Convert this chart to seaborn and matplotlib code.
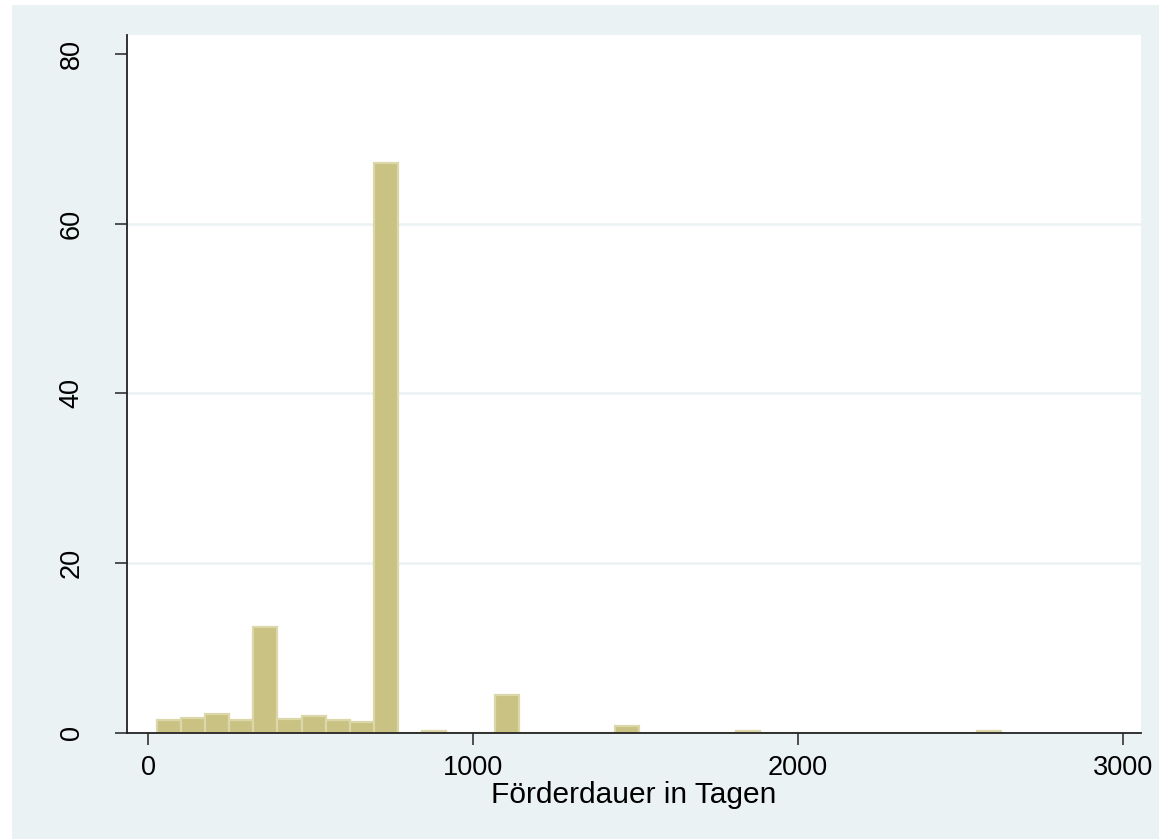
import numpy as np
import pandas as pd
import matplotlib
matplotlib.use('Agg')
import matplotlib.pyplot as plt
import seaborn as sns

# Histogramm der Förderdauer (Prozent je Klasse)
BIN_START = 27.0      # untere Grenze der ersten Klasse (Tage)
BIN_WIDTH = 74.2      # Klassenbreite (Tage)
N_BINS = 35

# Nur Klassen mit Werten > 0: Klassenindex und Prozent
klasse = [0, 1, 2, 3, 4, 5, 6, 7, 8, 9, 11, 14, 19, 24, 34]
prozent = [1.53, 1.72, 2.24, 1.53, 12.45, 1.65, 2.0, 1.53, 1.33, 67.1,
           0.27, 4.5, 0.82, 0.2, 0.2]

x_ticks = [0, 1000, 2000, 3000]
y_ticks = [0, 20, 40, 60, 80]
x_label = 'Förderdauer in Tagen'

edges = [BIN_START + BIN_WIDTH * i for i in range(N_BINS + 1)]
df = pd.DataFrame({
    'dauer': [BIN_START + BIN_WIDTH * (k + 0.5) for k in klasse],
    'prozent': prozent,
})

sns.set_theme(style='white')
plt.rcParams['font.family'] = ['Liberation Sans', 'DejaVu Sans']

BG = '#EAF2F3'
fig = plt.figure(figsize=(11.59, 8.39), dpi=100, facecolor='white')
# Stata-artiger Grafikbereich (leicht beschnitten wie im Original)
fig.patches.append(plt.Rectangle((12 / 1159, 0), 1, 1 - 5 / 839,
                                 transform=fig.transFigure, facecolor=BG,
                                 edgecolor='none', zorder=-10))
ax = fig.add_axes([127 / 1159, 1 - 733 / 839, (1141 - 127) / 1159, (733 - 35) / 839])
ax.set_facecolor('white')

sns.histplot(data=df, x='dauer', weights='prozent', bins=edges, stat='count',
             color='#C9C283', edgecolor='#DBD7A8', linewidth=1.6,
             alpha=1.0, ax=ax)

ax.set_xlim(-65, 3055)
ax.set_ylim(0, 82.2)
ax.set_xticks(x_ticks)
ax.set_yticks(y_ticks)
ax.set_xlabel(x_label, fontsize=21.5, labelpad=0, color='black')
ax.set_ylabel('')

ax.set_axisbelow(True)
ax.yaxis.grid(True, color=BG, linewidth=1.8)
ax.get_ygridlines()[-1].set_visible(False)
ax.get_ygridlines()[0].set_visible(False)

for side in ['top', 'right']:
    ax.spines[side].set_visible(False)
for side in ['left', 'bottom']:
    ax.spines[side].set_color('#222222')
    ax.spines[side].set_linewidth(1.3)

ax.tick_params(axis='both', direction='out', length=8.6, width=1.2,
               color='#333333', labelsize=19.5, labelcolor='black')
ax.tick_params(axis='x', pad=7, bottom=True)
ax.tick_params(axis='y', pad=22, left=True, labelrotation=90)
for lab in ax.get_yticklabels():
    lab.set_va('center')

fig.savefig('out.png', dpi=100, facecolor=fig.get_facecolor())
